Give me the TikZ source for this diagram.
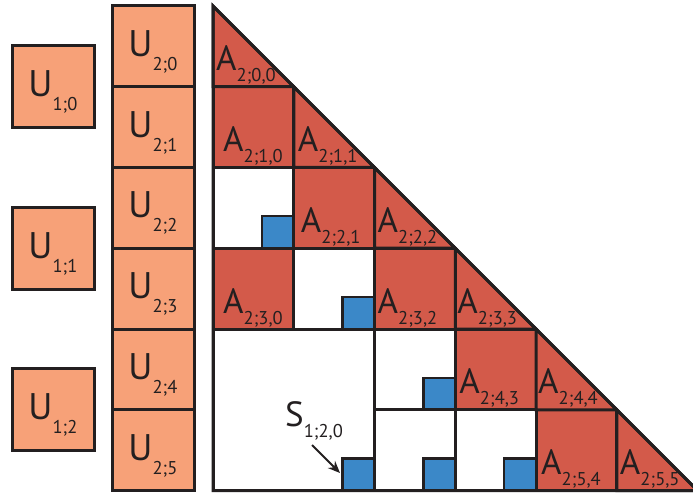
\documentclass[tikz,border=0pt]{standalone}
\usepackage{fontspec}
\setmainfont{PT Sans}
\usetikzlibrary{arrows.meta}
\definecolor{ured}{HTML}{D35A4A}
\definecolor{uorange}{HTML}{F7A178}
\definecolor{ublue}{HTML}{3B88C8}
\definecolor{uline}{HTML}{231F20}
\newcommand\Alab[2]{{\fontsize{35}{35}\selectfont #1}{\fontsize{18.5}{18.5}\selectfont\raisebox{-11pt}{#2}}}
\newcommand\Ulab[2]{{\fontsize{37}{37}\selectfont #1}{\fontsize{18.5}{18.5}\selectfont\raisebox{-14pt}{#2}}}
\begin{document}
\begin{tikzpicture}[x=1pt,y=-1pt,
  redcell/.style={fill=ured,draw=uline,line width=3pt},
  whitecell/.style={fill=white,draw=uline,line width=3pt},
  bluesq/.style={fill=ublue,draw=uline,line width=2.5pt},
  ubox/.style={fill=uorange,draw=uline,line width=3pt,inner sep=0pt,minimum width=82pt},
  lab/.style={inner sep=0pt,anchor=base west,text=uline},
  ulab/.style={inner sep=0pt,text=uline}]
\useasboundingbox (0,0) rectangle (693,494);
\def\c{80.75}
% white cells (single)
\foreach \k/\r in {0/2,1/3,2/4,2/5,3/5}{
  \draw[whitecell] ({213+\k*\c},{6+\r*\c}) rectangle ++(\c,\c);
  \draw[bluesq] ({213+(\k+1)*\c-32},{6+(\r+1)*\c-32}) rectangle ++(32,32);
}
% big white block
\draw[whitecell] (213,{6+4*\c}) rectangle ++({2*\c},{2*\c});
\draw[bluesq] ({213+2*\c-32},{6+6*\c-32}) rectangle ++(32,32);
% red full cells
\foreach \k/\r in {0/1,1/2,0/3,2/3,3/4,4/5}{
  \draw[redcell] ({213+\k*\c},{6+\r*\c}) rectangle ++(\c,\c);
}
% red diagonal triangles
\foreach \r in {0,...,5}{
  \draw[redcell] ({213+\r*\c},{6+\r*\c}) -- ++(0,\c) -- ++(\c,0) -- cycle;
}
% outer triangle
\draw[uline,line width=3pt] (213,6) -- (213,{6+6*\c}) -- ({213+6*\c},{6+6*\c}) -- cycle;
% A labels
\foreach \k/\r/\o/\t in {0/0/3/{2;0,0},0/1/10/{2;1,0},1/1/4/{2;1,1},1/2/7/{2;2,1},2/2/3/{2;2,2},0/3/10/{2;3,0},2/3/3/{2;3,2},3/3/2/{2;3,3},3/4/4/{2;4,3},4/4/2/{2;4,4},4/5/5/{2;5,4},5/5/3/{2;5,5}}{
  \node[lab] (A\r\k) at ({213+\k*\c+\o},{6+(\r+1)*\c-16}) {\Alab{A}{\t}};
}
% U2 column
\foreach \r in {0,...,5}{
  \node[ubox,minimum height=\c] (U2\r) at (153,{6+(\r+0.5)*\c}) {};
  \node[ulab] (U2l\r) at ([yshift=-5.5pt]U2\r.center) {\Ulab{U}{2;\r}};
}
% U1 boxes
\foreach \i in {0,1,2}{
  \node[ubox,minimum height=82pt] (U1\i) at (53,{6+(2*\i+1)*\c}) {};
  \node[ulab] (U1l\i) at ([yshift=-5.5pt]U1\i.center) {\Ulab{U}{1;\i}};
}
% S label and arrow
\node[lab] (S) at (285,426) {\Alab{S}{1;2,0}};
\coordinate (Stip) at (340,473);
\coordinate (Stail) at (312,445);
\draw[uline,line width=2pt,-{Stealth[length=12pt,width=10pt]}] (Stail) -- (Stip);
\end{tikzpicture}
\end{document}
